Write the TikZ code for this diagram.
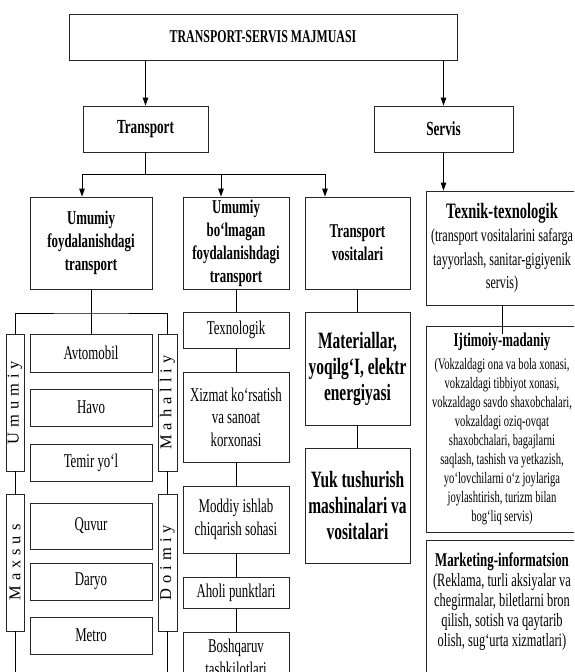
\documentclass[tikz,border=0pt]{standalone}
\usepackage{fontspec}
\setmainfont{Liberation Serif}[FakeStretch=0.66]
\newfontfamily\sidefont{Liberation Serif}[LetterSpace=30]
\usetikzlibrary{arrows.meta}

\newcommand{\headfont}{\fontsize{20}{23}\selectfont\bfseries}
\newcommand{\boldtxt}{\fontsize{19.5}{23}\selectfont\bfseries}
\newcommand{\bigbold}{\fontsize{23.4}{26}\selectfont\bfseries}
\newcommand{\plaintxt}{\fontsize{19.5}{22.5}\selectfont}
\newcommand{\notetxt}{\fontsize{16}{19}\selectfont}
\newcommand{\sidetxt}[1]{\rotatebox{90}{\sidefont\fontsize{16.5}{16.5}\selectfont #1}}

\begin{document}
\begin{tikzpicture}[x=1pt, y=-1pt, line width=0.8pt,
    box/.style={draw=black!85, inner sep=0pt, align=center, font=\plaintxt},
    side/.style={box, minimum width=18, minimum height=137},
    arr/.style={-{Triangle[length=8pt, width=5.5pt]}}]
  \useasboundingbox (0,0) rectangle (574,672);
  \clip (0,0) rectangle (574,672);

  % top level
  \node[box, minimum width=388, minimum height=46, font=\fontsize{18}{21}\selectfont\bfseries] (top) at (263,37)
    {TRANSPORT-SERVIS MAJMUASI};
  \node[box, minimum width=125, minimum height=46, font=\headfont] (trans) at (145.5,129) {Transport};
  \node[box, minimum width=139, minimum height=46, font=\headfont] (servis) at (443.5,129) {Servis};
  \draw[arr] (top.south -| trans) -- (trans.north);
  \draw[arr] (top.south -| servis) -- (servis.north);

  % transport branches
  \node[box, minimum width=122, minimum height=92, font=\boldtxt] (umum) at (91,243)
    {Umumiy\\foydalanishdagi\\transport};
  \node[box, minimum width=106, minimum height=92, font=\boldtxt] (bolm) at (236,243)
    {Umumiy\\bo‘lmagan\\foydalanishdagi\\transport};
  \node[box, minimum width=105, minimum height=92, font=\boldtxt] (vosit) at (357.5,243)
    {Transport\\vositalari};
  \coordinate (bus1) at (82,174);
  \coordinate (bus2) at (221,174);
  \coordinate (bus3) at (325,174);
  \draw (trans.south) -- (trans.south |- bus1);
  \draw (bus1) -- (bus3);
  \draw[arr] (bus1) -- (bus1 |- umum.north);
  \draw[arr] (bus2) -- (bus2 |- bolm.north);
  \draw[arr] (bus3) -- (bus3 |- vosit.north);

  % umumiy foydalanishdagi
  \node[side] (sideA) at (15,402.5) {\sidetxt{Umumiy}};
  \node[side] (sideB) at (15,562.5) {\sidetxt{Maxsus}};
  \node[side, minimum width=19] (sideC) at (167.5,402.5) {\sidetxt{Mahalliy}};
  \node[side, minimum width=19] (sideD) at (167.5,562.5) {\sidetxt{Doimiy}};
  \node[box, minimum width=122, minimum height=38] (avto) at (91,353) {Avtomobil};
  \node[box, minimum width=122, minimum height=37] (havo) at (91,407.5) {Havo};
  \node[box, minimum width=122, minimum height=37] (temir) at (91,462.5) {Temir yo‘l};
  \node[box, minimum width=122, minimum height=46] (quvur) at (91,526) {Quvur};
  \node[box, minimum width=122, minimum height=37] (daryo) at (91,581.5) {Daryo};
  \node[box, minimum width=122, minimum height=37] (metro) at (91,635.5) {Metro};
  \coordinate (ubus) at (91,313);
  \coordinate (pagebottom) at (0,680);
  \draw (umum.south) -- (avto.north);
  \draw (sideA.north) |- (ubus) -| (sideC.north);
  \draw (sideA) -- (sideB);
  \draw (sideC) -- (sideD);
  \draw (sideB.south) -- (sideB.south |- pagebottom);
  \draw (sideD.south) -- (sideD.south |- pagebottom);

  % umumiy bo'lmagan
  \node[box, minimum width=106, minimum height=36] (texnol) at (236,330) {Texnologik};
  \node[box, minimum width=106, minimum height=90] (xizmat) at (236,417)
    {Xizmat ko‘rsatish\\va sanoat\\korxonasi};
  \node[box, minimum width=106, minimum height=67] (moddiy) at (236,519.5)
    {Moddiy ishlab\\chiqarish sohasi};
  \node[box, minimum width=106, minimum height=31] (aholi) at (236,592.5) {Aholi punktlari};
  \node[box, minimum width=106, minimum height=51] (boshq) at (236,657.5)
    {Boshqaruv\\tashkilotlari};
  \foreach \a/\b in {bolm/texnol, texnol/xizmat, xizmat/moddiy, moddiy/aholi, aholi/boshq}
    \draw (\a) -- (\b);

  % transport vositalari
  \node[box, minimum width=105, minimum height=113, font=\bigbold] (mater) at (357.5,368.5)
    {Materiallar,\\yoqilg‘I, elektr\\energiyasi};
  \node[box, minimum width=105, minimum height=115, font=\bigbold] (yuk) at (357.5,505.5)
    {Yuk tushurish\\mashinalari va\\vositalari};
  \draw (vosit) -- (mater);
  \draw (mater) -- (yuk);

  % servis
  \node[box, minimum width=152, minimum height=114, font=\fontsize{18.3}{23.5}\selectfont] (texnik) at (502,248)
    {{\fontsize{22}{25}\selectfont\bfseries Texnik-texnologik}\\
     (transport vositalarini safarga\\tayyorlash, sanitar-gigiyenik\\servis)};
  \node[box, minimum width=152, minimum height=206, font=\notetxt] (ijtim) at (502,429)
    {{\boldtxt Ijtimoiy-madaniy}\\[4pt]
     (Vokzaldagi ona va bola xonasi,\\vokzaldagi tibbiyot xonasi,\\
     vokzaldago savdo shaxobchalari,\\vokzaldagi oziq-ovqat\\
     shaxobchalari, bagajlarni\\saqlash, tashish va yetkazish,\\
     yo‘lovchilarni o‘z joylariga\\joylashtirish, turizm bilan\\bog‘liq servis)};
  \node[box, minimum width=152, minimum height=170] (market) at (502,625) {};
  \node[align=center, inner sep=0pt, font=\fontsize{18.8}{20}\selectfont] (markettxt) at (502,602)
    {{\boldtxt Marketing-informatsion}\\
     (Reklama, turli aksiyalar va\\chegirmalar, biletlarni bron\\
     qilish, sotish va qaytarib\\olish, sug‘urta xizmatlari)};
  \draw[arr] (servis.south) -- (servis.south |- texnik.north);
  \draw[shorten >=-8pt] (texnik.south) -- (ijtim.north);
\end{tikzpicture}
\end{document}
